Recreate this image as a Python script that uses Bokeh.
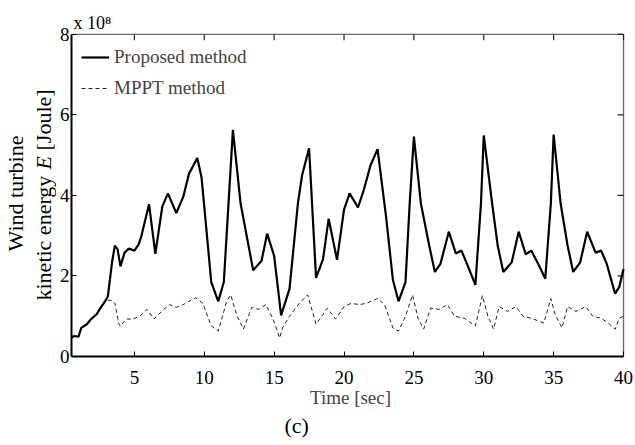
import math
from bokeh.plotting import figure
from bokeh.layouts import row
from bokeh.models import (Label, Legend, LegendItem, Range1d, FixedTicker,
                          ColumnDataSource, Title)
from bokeh.embed import file_html
from bokeh.resources import INLINE

# ---- data (energy in units of 1e8 Joule) ----
t_prop = [0.5, 0.7, 1.0, 1.2, 1.6, 1.9, 2.3, 2.6, 2.9, 3.1, 3.4, 3.6, 3.8, 4.0, 4.3, 4.6,
          5.0, 5.3, 5.5, 6.05, 6.5, 7.0, 7.4, 8.0, 8.5, 8.9, 9.5, 9.8, 10.0, 10.5, 11.0,
          11.4, 12.05, 12.6, 13.5, 14.1, 14.5, 15.0, 15.5, 16.1, 16.7, 17.0, 17.5, 18.0,
          18.5, 18.9, 19.5, 20.0, 20.4, 21.0, 21.4, 21.9, 22.4, 23.0, 23.5, 23.9, 24.4,
          24.7, 25.0, 25.5, 26.1, 26.5, 26.9, 27.5, 28.0, 28.4, 28.8, 29.4, 29.8, 30.0,
          30.6, 31.0, 31.4, 32.0, 32.5, 33.0, 33.4, 33.9, 34.4, 34.8, 35.0, 35.5, 36.0,
          36.4, 36.9, 37.4, 38.0, 38.4, 38.8, 39.4, 39.7, 40.0]
e_prop = [0.46, 0.51, 0.49, 0.71, 0.80, 0.93, 1.05, 1.22, 1.37, 1.49, 2.34, 2.75, 2.66, 2.24,
          2.58, 2.68, 2.63, 2.78, 2.99, 3.78, 2.55, 3.73, 4.05, 3.56, 3.97, 4.53, 4.93, 4.46,
          3.73, 1.85, 1.37, 1.85, 5.63, 3.80, 2.14, 2.38, 3.05, 2.50, 1.02, 1.68, 3.80, 4.50,
          5.17, 1.95, 2.42, 3.42, 2.40, 3.65, 4.05, 3.70, 4.12, 4.75, 5.15, 3.50, 1.90, 1.37,
          1.85, 3.80, 5.46, 3.80, 2.75, 2.10, 2.30, 3.10, 2.56, 2.63, 2.30, 1.78, 3.80, 5.49,
          3.80, 2.75, 2.10, 2.34, 3.10, 2.54, 2.63, 2.30, 1.93, 3.80, 5.51, 3.80, 2.75, 2.10,
          2.34, 3.10, 2.58, 2.63, 2.30, 1.56, 1.73, 2.17]

t_mppt = [0.5, 0.7, 1.0, 1.2, 1.6, 1.9, 2.3, 2.6, 2.9, 3.1, 3.4, 3.6, 3.9, 4.0, 4.4, 4.9, 5.4,
          5.9, 6.4, 7.1, 7.5, 8.0, 8.5, 8.9, 9.4, 9.9, 10.5, 11.0, 11.4, 11.6, 11.9, 12.3,
          12.8, 13.4, 13.9, 14.4, 14.9, 15.4, 15.6, 16.1, 16.8, 17.4, 18.0, 18.8, 19.4, 20.0,
          20.5, 21.1, 21.6, 22.4, 22.9, 23.5, 23.9, 24.4, 24.9, 25.3, 25.7, 26.2, 26.8, 27.4,
          27.9, 28.6, 29.4, 29.9, 30.3, 30.7, 31.1, 31.7, 32.3, 32.8, 33.4, 34.3, 34.8, 35.1,
          35.6, 36.0, 36.6, 37.3, 37.8, 38.4, 38.9, 39.4, 39.7, 40.0]
e_mppt = [0.46, 0.51, 0.49, 0.71, 0.80, 0.93, 1.05, 1.22, 1.37, 1.40, 1.39, 1.32, 0.80, 0.75,
          0.93, 0.93, 1.00, 1.17, 0.93, 1.17, 1.29, 1.22, 1.29, 1.37, 1.46, 1.32, 0.76, 0.63,
          1.12, 1.37, 1.53, 1.05, 0.68, 1.22, 1.17, 1.29, 0.95, 0.46, 0.71, 1.00, 1.32, 1.53,
          0.80, 1.20, 0.93, 1.24, 1.32, 1.29, 1.32, 1.44, 1.29, 0.71, 0.63, 1.00, 1.53, 0.95,
          0.68, 1.20, 1.17, 1.29, 1.00, 0.95, 0.76, 1.51, 1.00, 0.68, 1.24, 1.12, 1.24, 1.00,
          0.95, 0.83, 1.44, 1.05, 0.71, 1.24, 1.12, 1.24, 1.00, 0.95, 0.83, 0.68, 0.95, 1.00]

x_ticks = [5, 10, 15, 20, 25, 30, 35, 40]
y_ticks = [0, 2, 4, 6, 8]
series_names = ["Proposed method", "MPPT method"]

FONT = "Liberation Serif"
H = 443
LW = 56                 # width of the narrow figure holding the y label
W = 633 - LW
FL, FT, FB, FR = 70, 28, 356, 623   # box edges in page pixels
X0, X1, Y0, Y1 = 0.5, 40, 0, 8
PAD = 6                             # extra pixels of frame beyond the box (top/right)
px_x = (FR - FL) / (X1 - X0)
px_y = (FB - FT) / (Y1 - Y0)

p = figure(width=W, height=H, output_backend="svg", toolbar_location=None,
           x_range=Range1d(X0, X1 + PAD / px_x), y_range=Range1d(Y0, Y1 + PAD / px_y),
           min_border_left=FL - LW, min_border_right=(LW + W) - (FR + PAD),
           min_border_top=FT - PAD, min_border_bottom=H - FB,
           x_axis_label="Time [sec]")
p.grid.visible = False
p.outline_line_color = None
p.background_fill_color = "white"
p.border_fill_color = "white"

for ax in (p.xaxis[0], p.yaxis[0]):
    ax.axis_line_color = "black"
    ax.axis_line_width = 2
    ax.major_tick_in = 5
    ax.major_tick_out = 0
    ax.minor_tick_in = 0
    ax.minor_tick_out = 0
    ax.major_tick_line_color = "black"
    ax.major_label_text_font = FONT
    ax.major_label_text_font_size = "19px"
    ax.major_label_text_color = "black"

p.xaxis[0].ticker = FixedTicker(ticks=x_ticks)
p.yaxis[0].ticker = FixedTicker(ticks=y_ticks)
p.xaxis[0].bounds = (X0, X1)
p.yaxis[0].bounds = (Y0, Y1)
p.xaxis[0].major_label_standoff = 14
p.yaxis[0].major_label_standoff = 2
p.xaxis[0].axis_label_text_font = FONT
p.xaxis[0].axis_label_text_font_size = "19px"
p.xaxis[0].axis_label_text_font_style = "normal"
p.xaxis[0].axis_label_standoff = 0

# top and right edges of the box, in grey
p.segment(x0=[X0, X1], y0=[Y1, Y0], x1=[X1, X1], y1=[Y1, Y1],
          line_color="#6a6a6a", line_width=1.3)

# inward ticks on the top and right edges (6 px long)
n_x = len(x_ticks)
n_y = len(y_ticks)
p.segment(x0=x_ticks, y0=[Y1] * n_x, x1=x_ticks, y1=[Y1 - 6 / px_y] * n_x,
          line_color="#222222", line_width=1.2)
p.segment(x0=[X1] * n_y, y0=y_ticks, x1=[X1 - 6 / px_x] * n_y, y1=y_ticks,
          line_color="#222222", line_width=1.2)

src_p = ColumnDataSource(dict(x=t_prop, y=e_prop))
src_m = ColumnDataSource(dict(x=t_mppt, y=e_mppt))
r_m = p.line("x", "y", source=src_m, line_color="#222222", line_width=1, line_dash="4 3")
r_p = p.line("x", "y", source=src_p, line_color="black", line_width=2.2)

legend = Legend(items=[LegendItem(label=series_names[0], renderers=[r_p]),
                       LegendItem(label=series_names[1], renderers=[r_m])],
                location=(10, FB - 99), padding=0, margin=0, spacing=9,
                glyph_width=28, glyph_height=20, label_height=20, label_standoff=5,
                border_line_color=None, background_fill_alpha=0,
                label_text_font=FONT, label_text_font_size="19px")
p.add_layout(legend, "center")

# exponent above the box and panel tag below
p.add_layout(Title(text="x 10\u2078", align="left", offset=2, standoff=-8,
                   vertical_align="bottom", text_font=FONT, text_font_size="18px",
                   text_font_style="normal", text_color="black"), "above")
p.add_layout(Title(text="(c)", align="left", offset=213, standoff=2,
                   vertical_align="middle", text_font=FONT, text_font_size="22px",
                   text_font_style="normal", text_color="black"), "below")

# narrow figure on the left carrying the two-line y label (italic E)
q = figure(width=LW, height=H, output_backend="svg", toolbar_location=None,
           x_range=Range1d(0, 1), y_range=Range1d(0, 1),
           x_axis_type=None, y_axis_type=None,
           min_border_left=0, min_border_right=0, min_border_top=FT,
           min_border_bottom=H - FB)
q.grid.visible = False
q.outline_line_color = None
q.border_fill_color = "white"
q.background_fill_color = "white"


def lab(text, wx, wy, size, angle=0.0, align="left", style="normal"):
    # page position -> screen units relative to this figure's frame bottom-left
    q.add_layout(Label(x=wx, y=FB - wy, x_units="screen", y_units="screen", text=text,
                       text_font=FONT, text_font_size=size, text_align=align,
                       text_baseline="middle", angle=angle, text_font_style=style,
                       text_color="black"))


A = math.pi / 2
lab("Wind turbine", 15, 193, "22px", angle=A, align="center")
lab("kinetic energy", 43, 300, "22px", angle=A)
lab("E", 43, 169, "22px", angle=A, style="italic")
lab("[Joule]", 43, 150, "22px", angle=A)

layout = row(q, p, spacing=0)
open("out.html", "w").write(file_html(layout, INLINE))
